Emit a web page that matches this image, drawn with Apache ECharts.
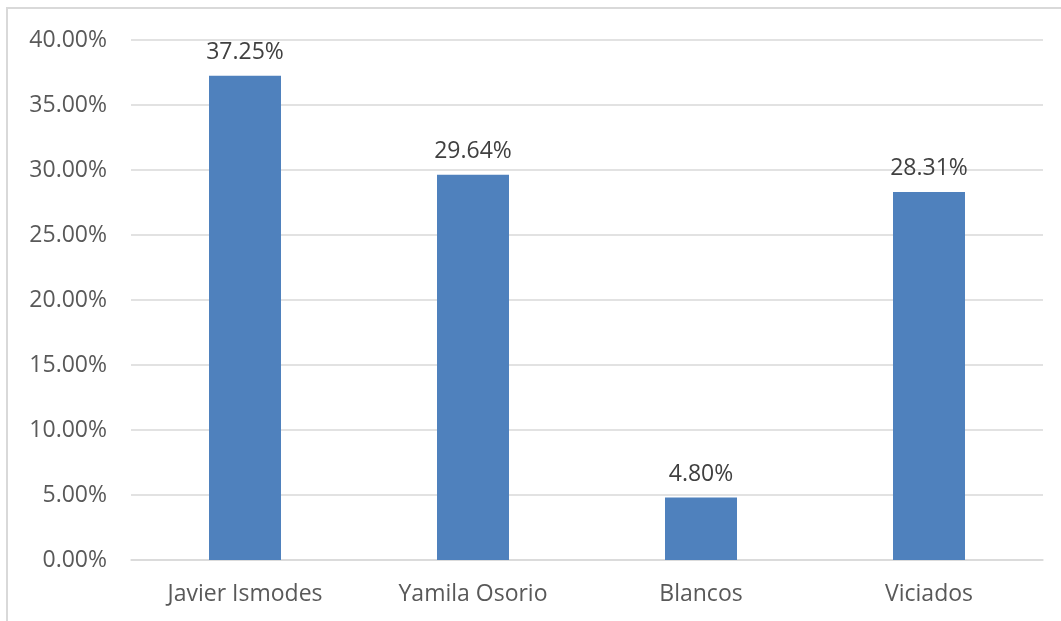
<!DOCTYPE html>
<html><head><meta charset="utf-8">
<script src="https://cdn.jsdelivr.net/npm/echarts@6/dist/echarts.min.js"></script>
<style>html,body{margin:0;padding:0;background:#fff}#c{width:1061px;height:621px}</style>
</head><body><div id="c"></div>
<script>
const categories = ["Javier Ismodes", "Yamila Osorio", "Blancos", "Viciados"];
const values = [37.25, 29.64, 4.80, 28.31];
const chart = echarts.init(document.getElementById('c'), null, {renderer: 'canvas'});
const font = "'Open Sans', 'Liberation Sans', sans-serif";
chart.setOption({
  animation: false,
  backgroundColor: '#fff',
  graphic: [{type: 'rect', shape: {x: 7, y: 8, width: 1080, height: 640}, style: {fill: 'none', stroke: '#d9d9d9', lineWidth: 2}, silent: true}],
  grid: {left: 131, right: 18, top: 40, bottom: 61},
  xAxis: {
    type: 'category', data: categories,
    axisLine: {lineStyle: {color: '#d9d9d9', width: 1.5}},
    axisTick: {show: false},
    axisLabel: {color: '#595959', fontSize: 23, fontFamily: font, margin: 23}
  },
  yAxis: {
    type: 'value', min: 0, max: 40, interval: 5,
    axisLine: {show: false}, axisTick: {show: false},
    splitLine: {lineStyle: {color: '#d9d9d9', width: 1.5}},
    axisLabel: {color: '#595959', fontSize: 23, fontFamily: font, margin: 24,
      formatter: v => v.toFixed(2) + '%'}
  },
  series: [{
    type: 'bar', data: values, barWidth: 72,
    itemStyle: {color: '#4F81BD'},
    label: {show: true, position: 'top', distance: 12, color: '#404040', fontSize: 23, fontFamily: font,
      formatter: p => p.value.toFixed(2) + '%'}
  }]
});
</script></body></html>
